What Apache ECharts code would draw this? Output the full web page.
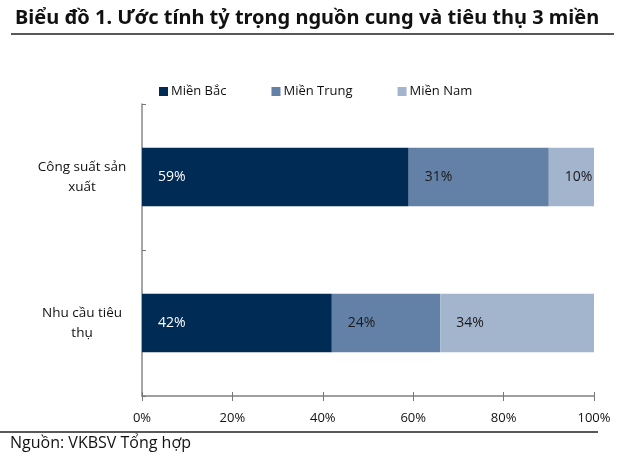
<!DOCTYPE html>
<html><head><meta charset="utf-8">
<script src="https://cdn.jsdelivr.net/npm/echarts@6/dist/echarts.min.js"></script>
<style>html,body{margin:0;padding:0;background:#fff}#c{width:640px;height:463px}</style>
</head><body><div id="c"></div>
<script>
const categories = ["Công suất sản\nxuất", "Nhu cầu tiêu\nthụ"];
const seriesNames = ["Miền Bắc", "Miền Trung", "Miền Nam"];
const mienBac = [59, 42];
const mienTrung = [31, 24];
const mienNam = [10, 34];
const xTicks = [0, 20, 40, 60, 80, 100];
const colors = ["#002B55", "#6381A7", "#A3B4CD"];
const labelColors = ["#ffffff", "#1a1a1a", "#1a1a1a"];
const font = "'Open Sans', 'Noto Sans', sans-serif";

const chart = echarts.init(document.getElementById('c'));
const dataSets = [mienBac, mienTrung, mienNam];
chart.setOption({
  animation: false,
  textStyle: {fontFamily: font},
  title: {
    text: "Biểu đồ 1. Ước tính tỷ trọng nguồn cung và tiêu thụ 3 miền",
    left: 10, top: 3,
    textStyle: {fontFamily: "'Noto Sans', sans-serif", fontWeight: 'bold', fontSize: 20, color: '#111'}
  },
  graphic: [
    {type: 'line', shape: {x1: 11, y1: 34, x2: 614, y2: 34}, style: {stroke: '#222', lineWidth: 1.5}},
    {type: 'line', shape: {x1: 0, y1: 432, x2: 598, y2: 432}, style: {stroke: '#222', lineWidth: 1.5}},
    {type: 'text', left: 10, top: 435, style: {text: "Nguồn: VKBSV Tổng hợp", font: "16px " + font, fill: '#111'}}
  ],
  legend: {
    top: 80, left: 154, itemWidth: 9, itemHeight: 9, itemGap: 45, icon: 'rect',
    textStyle: {fontSize: 13, color: '#111', fontFamily: font, padding: [0, 0, 0, -2]},
    data: seriesNames
  },
  grid: {left: 142, right: 46, top: 104, bottom: 67},
  xAxis: [{
    type: 'value', min: 0, max: 100, interval: 20,
    axisLine: {show: true, lineStyle: {color: '#808080', width: 1.5}},
    axisTick: {show: true, length: 5, lineStyle: {color: '#777'}},
    splitLine: {show: false},
    axisLabel: {formatter: v => v + '%', fontSize: 13, color: '#111', margin: 16, fontFamily: font}
  }, {
    type: 'value', min: 0, max: 100, interval: 20, position: 'bottom',
    axisLine: {show: false},
    axisTick: {show: true, inside: true, length: 4, lineStyle: {color: '#777'}},
    splitLine: {show: false}, axisLabel: {show: false}
  }],
  yAxis: {
    type: 'category', inverse: true, data: categories,
    axisLine: {show: true, lineStyle: {color: '#888', width: 1.5}},
    axisTick: {show: true, inside: true, length: 4, lineStyle: {color: '#777'}},
    axisLabel: {fontSize: 13.5, color: '#111', align: 'center', margin: 60, lineHeight: 20, fontFamily: font}
  },
  series: seriesNames.map((n, i) => ({
    name: n, type: 'bar', stack: 'total', barWidth: '40%',
    itemStyle: {color: colors[i]},
    label: {show: true, position: 'insideLeft', distance: 16, formatter: p => p.value + '%',
      color: labelColors[i], fontSize: 14, fontFamily: font},
    data: dataSets[i]
  }))
});
</script></body></html>
